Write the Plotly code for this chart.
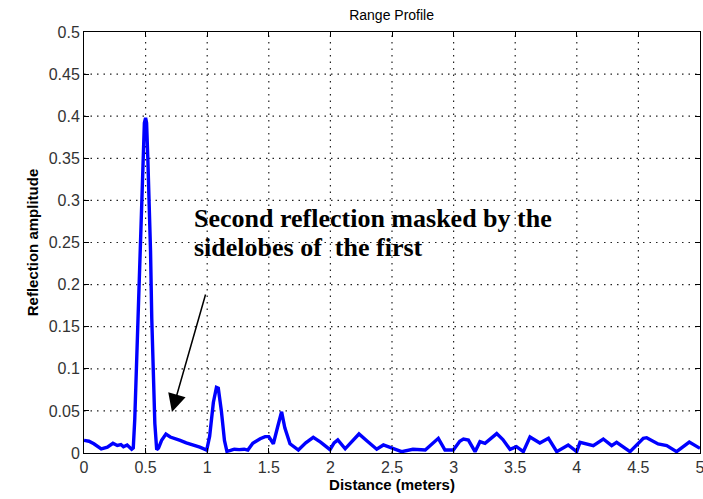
import plotly.graph_objects as go

distance = [0.00, 0.04, 0.08, 0.14, 0.19, 0.235, 0.27, 0.30, 0.32, 0.35, 0.387, 0.400,
            0.412, 0.425, 0.440, 0.452, 0.465, 0.478, 0.490, 0.500, 0.508, 0.518, 0.530,
            0.540, 0.550, 0.562, 0.575, 0.590, 0.605, 0.630, 0.665, 0.700, 0.740, 0.780,
            0.830, 0.887, 0.940, 0.996, 1.02, 1.05, 1.075, 1.09, 1.115, 1.14, 1.16, 1.19,
            1.22, 1.26, 1.30, 1.33, 1.37, 1.43, 1.47, 1.50, 1.537, 1.57, 1.604, 1.63, 1.672,
            1.74, 1.80, 1.861, 1.92, 1.997, 2.03, 2.06, 2.12, 2.17, 2.232, 2.30, 2.376, 2.43,
            2.51, 2.578, 2.67, 2.77, 2.876, 2.93, 2.998, 3.05, 3.08, 3.12, 3.174, 3.214,
            3.255, 3.35, 3.40, 3.458, 3.51, 3.566, 3.62, 3.70, 3.77, 3.837, 3.93, 3.999,
            4.026, 4.134, 4.215, 4.283, 4.323, 4.432, 4.54, 4.567, 4.66, 4.73, 4.81, 4.913, 5.00]
amplitude = [0.0150, 0.0140, 0.0110, 0.0050, 0.0070, 0.0115, 0.0090, 0.0100, 0.0075, 0.0095, 0.0045, 0.0060,
             0.040, 0.100, 0.170, 0.220, 0.290, 0.350, 0.392, 0.398, 0.392, 0.350, 0.300,
             0.240, 0.160, 0.090, 0.035, 0.004, 0.006, 0.015, 0.0225, 0.019, 0.0165, 0.0150,
             0.0120, 0.0095, 0.0070, 0.0035, 0.020, 0.060, 0.078, 0.077, 0.050, 0.015, 0.0020, 0.0030,
             0.0045, 0.0040, 0.0045, 0.0035, 0.0115, 0.0170, 0.0195, 0.0195, 0.0110, 0.030, 0.049, 0.030, 0.0110,
             0.0035, 0.0120, 0.0186, 0.0130, 0.0040, 0.0120, 0.0155, 0.0050, 0.0130, 0.0226, 0.0140, 0.0045, 0.0095,
             0.0055, 0.0016, 0.0044, 0.0035, 0.0174, 0.0035, 0.0035, 0.0140, 0.0166, 0.0154, 0.0016, 0.0135,
             0.0115, 0.0230, 0.0160, 0.0044, 0.0075, 0.0016, 0.0190, 0.0118, 0.0174, 0.0016, 0.0095, 0.0016,
             0.0126, 0.0087, 0.0166, 0.0087, 0.0126, 0.0016, 0.0174, 0.0182, 0.0107, 0.0087, 0.0016, 0.0130, 0.0055]

x_ticks = [0, 0.5, 1, 1.5, 2, 2.5, 3, 3.5, 4, 4.5, 5]
x_tick_labels = ["0", "0.5", "1", "1.5", "2", "2.5", "3", "3.5", "4", "4.5", "5"]
y_ticks = [0, 0.05, 0.1, 0.15, 0.2, 0.25, 0.3, 0.35, 0.4, 0.45, 0.5]
y_tick_labels = ["0", "0.05", "0.1", "0.15", "0.2", "0.25", "0.3", "0.35", "0.4", "0.45", "0.5"]

note_line1 = "Second reflection masked by the"
note_line2 = "sidelobes of  the first"

fig = go.Figure()
fig.add_trace(go.Scatter(x=distance, y=amplitude, mode="lines",
                         line=dict(color="#0000FF", width=3.4), showlegend=False))

axis_common = dict(showline=True, linecolor="black", linewidth=1, mirror="ticks",
                   ticks="inside", ticklen=5, tickcolor="black",
                   showgrid=False, zeroline=False, ticklabeloverflow="allow", automargin=False,
                   tickfont=dict(family="Liberation Sans, Arial", size=16, color="#333333"))

fig.update_xaxes(range=[0, 5], tickvals=x_ticks, ticktext=x_tick_labels,
                 title=dict(text="<b>Distance (meters)</b>", standoff=4,
                            font=dict(family="Liberation Sans, Arial", size=15, color="black")),
                 **axis_common)
fig.update_yaxes(range=[0, 0.5], tickvals=y_ticks, ticktext=y_tick_labels,
                 title=dict(text="<b>Reflection amplitude</b>", standoff=6,
                            font=dict(family="Liberation Sans, Arial", size=15, color="black")),
                 **axis_common)

grid_line = dict(color="#222222", width=1.2, dash="1.5px,5px")
for xv in x_ticks[1:-1]:
    fig.add_shape(type="line", xref="x", yref="paper", x0=xv, x1=xv, y0=0, y1=1,
                  line=grid_line, layer="below")
for yv in y_ticks[1:-1]:
    fig.add_shape(type="line", xref="paper", yref="y", x0=0, x1=1, y0=yv, y1=yv,
                  line=grid_line, layer="below")

fig.add_annotation(x=0.877, y=0.278, xref="x", yref="y", text="<b>" + note_line1 + "</b>",
                   showarrow=False, xanchor="left", yanchor="middle",
                   font=dict(family="Liberation Serif, Times New Roman", size=26, color="black"))
fig.add_annotation(x=0.877, y=0.2435, xref="x", yref="y", text="<b>" + note_line2 + "</b>",
                   showarrow=False, xanchor="left", yanchor="middle",
                   font=dict(family="Liberation Serif, Times New Roman", size=26, color="black"))
fig.add_annotation(x=0.714, y=0.0487, xref="x", yref="y", ax=0.99, ay=0.19, axref="x", ayref="y",
                   text="", showarrow=True, arrowhead=2, arrowsize=2.4, arrowwidth=1.5,
                   arrowcolor="black")

fig.update_layout(
    width=703, height=499,
    margin=dict(l=84, r=3, t=32, b=46),
    paper_bgcolor="white", plot_bgcolor="white",
    title=dict(text="Range Profile", x=0.557, xanchor="center", y=0.97, yanchor="middle",
               font=dict(family="Liberation Sans, Arial", size=14, color="black")),
)

fig.write_html("out.html")
